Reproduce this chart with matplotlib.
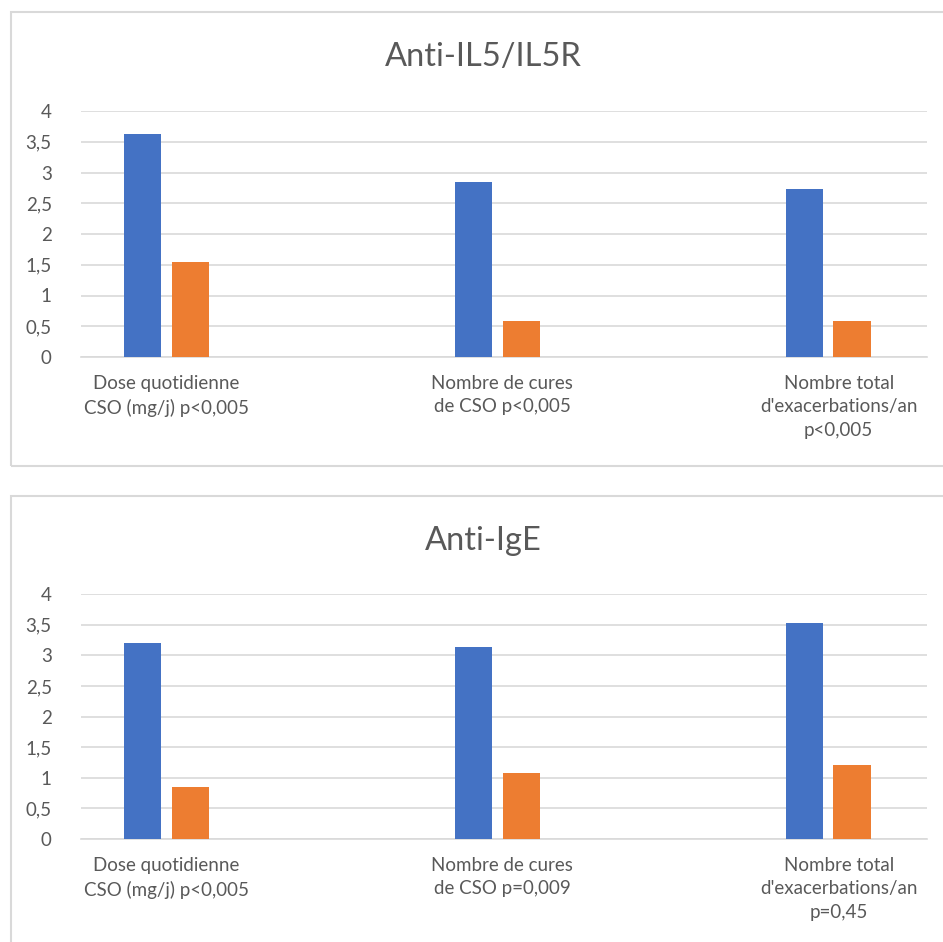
import numpy as np
import matplotlib
matplotlib.use('Agg')
from matplotlib import pyplot as plt
from matplotlib.patches import Rectangle
from matplotlib.ticker import FuncFormatter

plt.rcParams['font.family'] = ['Lato', 'DejaVu Sans']

#data
titles = ['Anti-IL5/IL5R', 'Anti-IgE']
cats_top = ['Dose quotidienne\nCSO (mg/j) p<0,005',
            'Nombre de cures\nde CSO p<0,005',
            "Nombre total\nd'exacerbations/an\np<0,005"]
cats_bot = ['Dose quotidienne\nCSO (mg/j) p<0,005',
            'Nombre de cures\nde CSO p=0,009',
            "Nombre total\nd'exacerbations/an\np=0,45"]
avant_top = [3.63, 2.84, 2.73]
apres_top = [1.54, 0.58, 0.58]
avant_bot = [3.20, 3.13, 3.53]
apres_bot = [0.85, 1.07, 1.21]
yticks = [0, 0.5, 1, 1.5, 2, 2.5, 3, 3.5, 4]

W, H = 943, 942
fig = plt.figure(figsize=(W/100, H/100), dpi=100)

blue = '#4472C4'
orange = '#ED7D31'
grid = '#D9D9D9'
txt = '#595959'

# panel boxes (pixel coords from top-left)
for top, bot in [(12, 466), (496, 960)]:
    r = Rectangle((11/W, 1 - bot/H), (960-11)/W, (bot-top)/H,
                  transform=fig.transFigure, fill=False,
                  edgecolor='#D9D9D9', lw=1.5, zorder=0)
    fig.patches.append(r)

def panel(ax_top, ax_bot, title, title_y, cats, a, b):
    ax = fig.add_axes([81/W, 1 - ax_bot/H, 846/W, (ax_bot-ax_top)/H])
    x = np.arange(len(cats))
    w = 0.112
    ax.bar(x - 0.0725, a, w, color=blue, zorder=3)
    ax.bar(x + 0.0725, b, w, color=orange, zorder=3)
    ax.set_xlim(-0.257, 2.299)
    ax.set_ylim(0, 4)
    ax.set_yticks(yticks)
    ax.yaxis.set_major_formatter(FuncFormatter(lambda v, p: ('%g' % v).replace('.', ',')))
    ax.grid(axis='y', color=grid, lw=1.2, zorder=0)
    for s in ['top', 'right', 'left']:
        ax.spines[s].set_visible(False)
    ax.spines['bottom'].set_color(grid)
    ax.spines['bottom'].set_linewidth(1.2)
    # labels sit a little right of the bar groups in the original
    ax.set_xticks(x * 1.016)
    ax.set_xticklabels(cats, fontsize=13.5, color=txt, linespacing=1.45)
    ax.tick_params(axis='x', length=0, pad=13)
    ax.tick_params(axis='y', length=0, labelsize=13.5, labelcolor=txt, pad=21)
    fig.text(483/W, 1 - title_y/H, title, ha='center', va='center',
             fontsize=23.5, color=txt)

panel(111, 357, titles[0], 57, cats_top, avant_top, apres_top)
panel(594, 839, titles[1], 541, cats_bot, avant_bot, apres_bot)

fig.savefig('out.png', dpi=100, facecolor='white')
